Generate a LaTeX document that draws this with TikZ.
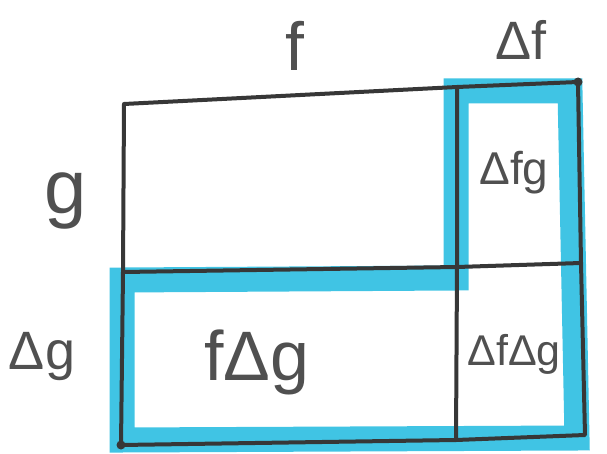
\documentclass[tikz,border=0pt]{standalone}
\usepackage{fontspec}
\setmainfont{Liberation Sans}
\definecolor{hlcyan}{RGB}{64,196,228}
\definecolor{linegray}{RGB}{55,55,55}
\definecolor{textgray}{RGB}{80,80,80}
\begin{document}
\begin{tikzpicture}[x=1pt,y=-1pt,
  edge/.style={draw=linegray, line width=4pt, line cap=round, line join=round},
  hl/.style={draw=hlcyan, line width=25pt, line join=miter},
  lbl/.style={text=textgray, inner sep=0pt},
  dot/.style={fill=linegray, circle, inner sep=0pt, minimum size=9pt}
]
\useasboundingbox (0,0) rectangle (607,454);
% corners
\coordinate (A) at (124,104);
\coordinate (B) at (457,87);
\coordinate (C) at (578,82);
\coordinate (D) at (123,272);
\coordinate (E) at (457,267);
\coordinate (F) at (581,263);
\coordinate (G) at (121,445);
\coordinate (H) at (456,440);
\coordinate (I) at (585,435);
% cyan highlight around the added strip
\coordinate (h1) at (456,91);
\coordinate (h2) at (570,91);
\coordinate (h3) at (577,438);
\coordinate (h4) at (122,440);
\coordinate (h5) at (122,280);
\coordinate (h6) at (456,278);
\draw[hl] (h1) -- (h2) -- (h3) -- (h4) -- (h5) -- (h6) -- cycle;
% rectangle and dividers
\draw[edge] (A) -- (B) -- (C) -- (F) -- (I) -- (H) -- (G) -- (D) -- (A);
\draw[edge] (B) -- (E) -- (H);
\draw[edge] (D) -- (E) -- (F);
\node[dot] (dC) at (C) {};
\node[dot] (dG) at (G) {};
% labels
\node[lbl, font=\fontsize{68}{70}\selectfont] (lf) at (295,46) {f};
\node[lbl, font=\fontsize{54}{60}\selectfont] (ldf) at (521,40) {Δf};
\node[lbl, font=\fontsize{76}{80}\selectfont] (lg) at (66,201) {g};
\node[lbl, font=\fontsize{54}{60}\selectfont] (ldg) at (42,357) {Δg};
\node[lbl, font=\fontsize{46}{50}\selectfont] (ldfg) at (514,173) {Δfg};
\node[lbl, font=\fontsize{70}{72}\selectfont] (lfdg) at (257,362) {fΔg};
\node[lbl, font=\fontsize{43}{50}\selectfont] (ldfdg) at (514,354) {ΔfΔg};
\end{tikzpicture}
\end{document}
